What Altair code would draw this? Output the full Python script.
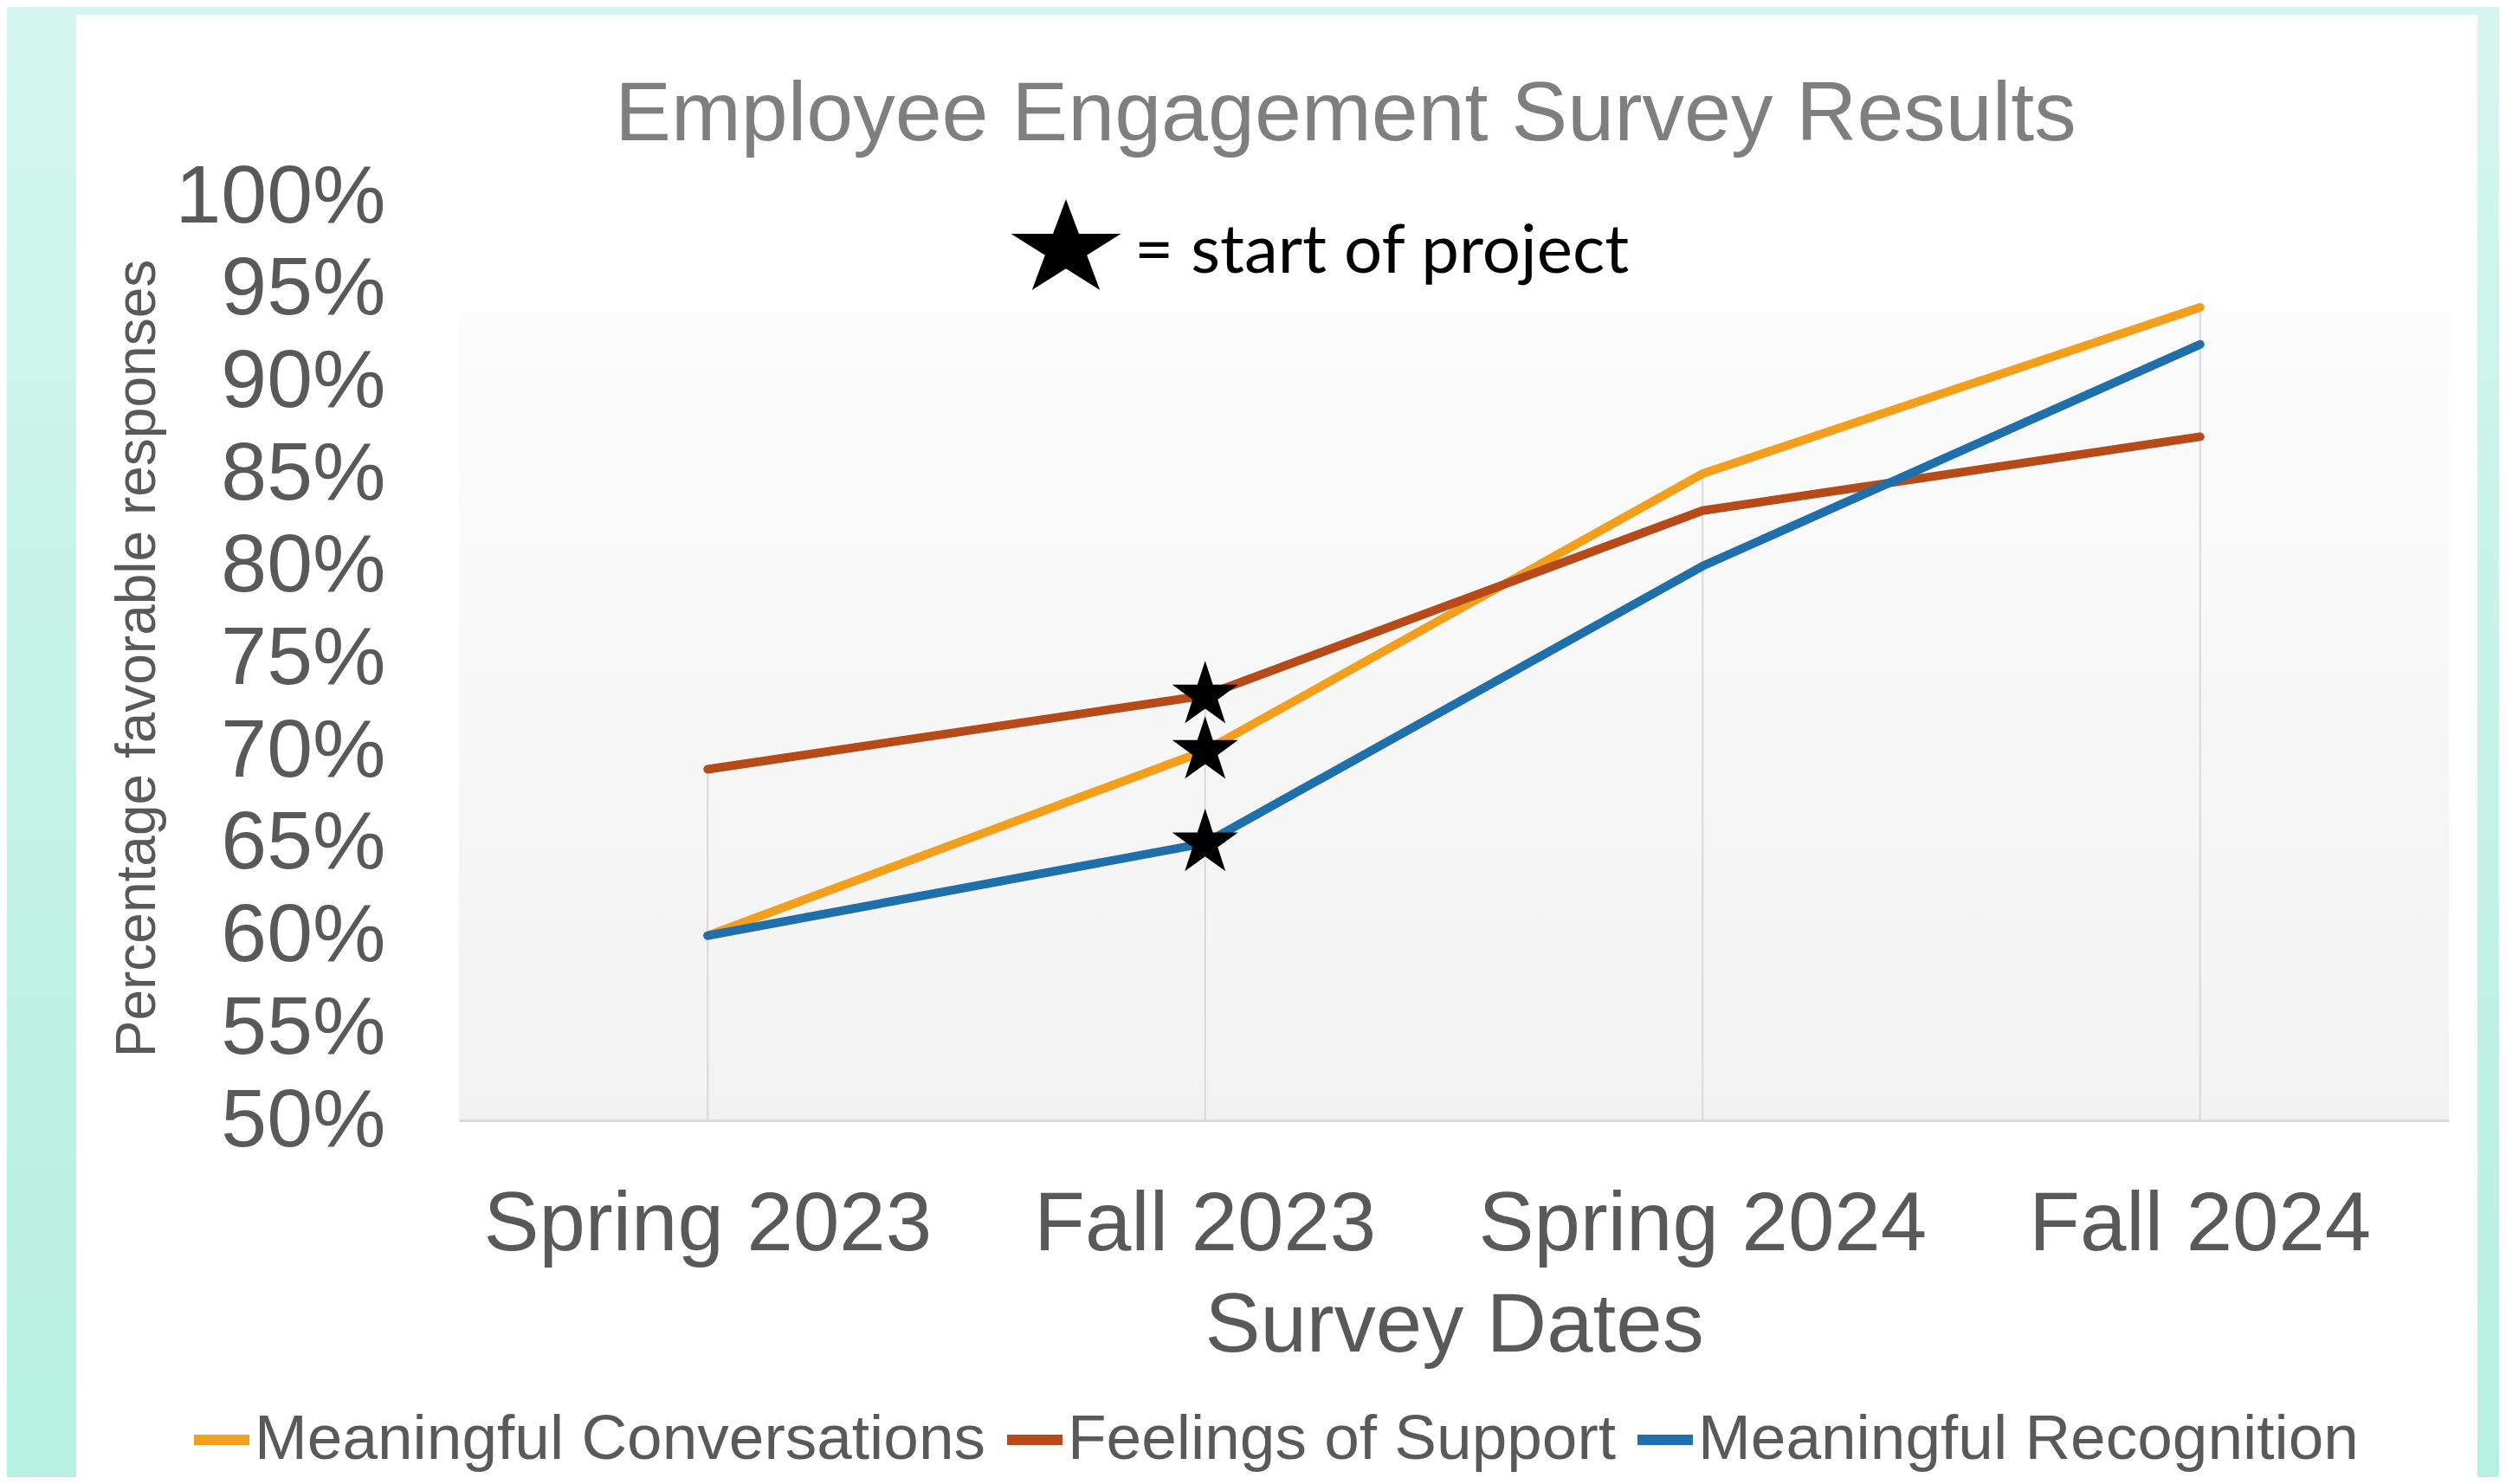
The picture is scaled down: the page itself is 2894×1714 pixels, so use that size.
import altair as alt
import pandas as pd

# ---- data ----
dates = ["Spring 2023", "Fall 2023", "Spring 2024", "Fall 2024"]
series_names = ["Meaningful Conversations", "Feelings of Support", "Meaningful Recognition"]
conversations = [0.60, 0.70, 0.85, 0.94]
support = [0.69, 0.73, 0.83, 0.87]
recognition = [0.60, 0.65, 0.80, 0.92]
series_colors = ["#f29f1d", "#b64a19", "#1f70aa"]
project_start = "Fall 2023"
y_ticks = [0.50, 0.55, 0.60, 0.65, 0.70, 0.75, 0.80, 0.85, 0.90, 0.95, 1.00]

rows = []
for name, vals in zip(series_names, [conversations, support, recognition]):
    for d, v in zip(dates, vals):
        rows.append({"date": d, "series": name, "value": v})
df = pd.DataFrame(rows)

FONT = "Liberation Sans"
W, H = 2298, 1067
PAD = {"left": 522, "top": 219, "right": 58, "bottom": 412}

STAR = ("M0,-1L0.2245,-0.309L0.951,-0.309L0.363,0.118L0.588,0.809L0,0.382"
        "L-0.588,0.809L-0.363,0.118L-0.951,-0.309L-0.2245,-0.309Z")
STAR_WIDE = ("M0,-1L0.258,-0.309L1.094,-0.309L0.417,0.118L0.676,0.809L0,0.382"
             "L-0.676,0.809L-0.417,0.118L-1.094,-0.309L-0.258,-0.309Z")

x_axis = alt.Axis(title="Survey Dates", labelFontSize=96, labelFont=FONT, labelColor="#595959",
                  labelPadding=73, labelLimit=0, ticks=False, grid=False,
                  domainColor="#d9d9d9", domainWidth=3,
                  titleFontSize=96, titleFont=FONT, titleColor="#595959", titleFontWeight="normal",
                  titleX=W / 2, titleY=266, titleBaseline="alphabetic", titleAlign="center",
                  labelAngle=0, zindex=1)
y_axis = alt.Axis(title="Percentage favorable responses", values=y_ticks, format=".0%",
                  labelFontSize=95, labelFont=FONT, labelColor="#595959", labelPadding=85,
                  labelLimit=0, ticks=False, grid=False, domain=False,
                  titleFontSize=64, titleFont=FONT, titleColor="#595959", titleFontWeight="normal",
                  titleAngle=270, titleX=-352, titleY=533, titleBaseline="alphabetic",
                  titleAlign="center", zindex=1)

x_scale = alt.Scale(domain=dates)
y_scale = alt.Scale(domain=[0.5, 1.0], nice=False, zero=False)


def X(field):
    return alt.X(field, type="nominal", scale=x_scale, axis=x_axis, sort=dates)


def Y(field):
    return alt.Y(field, type="quantitative", scale=y_scale, axis=y_axis)


one = alt.Data(values=[{}])

teal = alt.Chart(one).mark_rect(
    color=alt.Gradient(gradient="linear", x1=0, x2=0, y1=0, y2=1,
                       stops=[alt.GradientStop(color="#d4f6ed", offset=0),
                              alt.GradientStop(color="#b5f0e0", offset=1)])
).encode(x=alt.value(-PAD["left"]), x2=alt.value(W + PAD["right"]),
         y=alt.value(-PAD["top"]), y2=alt.value(H + PAD["bottom"]))

card = alt.Chart(one).mark_rect(color="white").encode(
    x=alt.value(-442), x2=alt.value(2331), y=alt.value(-210), y2=alt.value(H + PAD["bottom"]))

plotbg = alt.Chart(one).mark_rect(
    color=alt.Gradient(gradient="linear", x1=0, x2=0, y1=0, y2=1,
                       stops=[alt.GradientStop(color="#ffffff", offset=0),
                              alt.GradientStop(color="#ffffff", offset=0.124),
                              alt.GradientStop(color="#fcfcfc", offset=0.126),
                              alt.GradientStop(color="#f2f2f2", offset=1)])
).encode(x=alt.value(0), x2=alt.value(W), y=alt.value(0), y2=alt.value(H))

base = alt.Chart(df)

drops = base.transform_aggregate(maxv="max(value)", groupby=["date"]).mark_rule(
    color="#d9d9d9", strokeWidth=2
).encode(x=X("date"), y=Y("maxv"), y2=alt.datum(0.5))

lines = base.mark_line(strokeWidth=10, strokeCap="round", strokeJoin="round").encode(
    x=X("date"), y=Y("value"),
    color=alt.Color("series:N", scale=alt.Scale(domain=series_names, range=series_colors),
                    sort=series_names,
                    legend=alt.Legend(orient="none", legendX=-312, legendY=1398,
                                      direction="horizontal", title=None, symbolType="stroke",
                                      symbolSize=4096, symbolStrokeWidth=12,
                                      labelFontSize=73, labelFont=FONT, labelColor="#595959",
                                      labelOffset=0, columnPadding=0, padding=0, labelLimit=0)),
    order=alt.Order("date_idx:Q"),
).transform_calculate(
    date_idx="indexof(" + str(dates) + ", datum.date)"
)

stars = base.transform_filter(alt.datum.date == project_start).mark_point(
    shape=STAR, size=6400, filled=True, color="black", opacity=1, strokeWidth=0
).encode(x=X("date"), y=Y("value"))

note_star = alt.Chart(one).mark_point(
    shape=STAR_WIDE, size=13456, filled=True, color="black", opacity=1, strokeWidth=0
).encode(x=alt.value(701), y=alt.value(61))

note_text = alt.Chart(one).mark_text(
    text="= start of project", font="Lato", fontSize=78, color="black",
    align="left", baseline="alphabetic"
).encode(x=alt.value(780), y=alt.value(88))

title = alt.Chart(one).mark_text(
    text="Employee Engagement Survey Results", font=FONT, fontSize=97, color="#7f7f7f",
    align="center", baseline="alphabetic"
).encode(x=alt.value(1024), y=alt.value(-65))

chart = alt.layer(teal, card, plotbg, drops, lines, stars, note_star, note_text, title).properties(
    width=W, height=H,
    autosize=alt.AutoSizeParams(type="none"),
    padding=PAD,
).configure_view(stroke=None).configure(background="#c5f3e6")

chart.save("out.html", embed_options={"renderer": "svg", "actions": False})
